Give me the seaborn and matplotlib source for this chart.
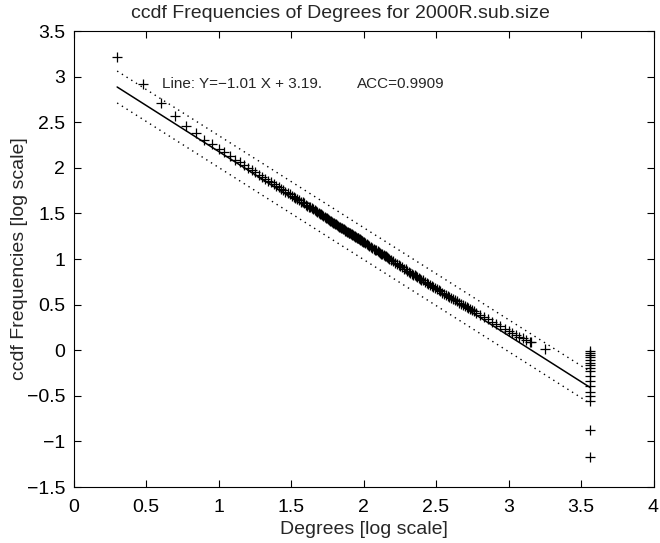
import numpy as np
import pandas as pd
import matplotlib
matplotlib.use("Agg")
import matplotlib.pyplot as plt
import seaborn as sns

# ---- data (log10 degree, log10 ccdf frequency) ----
x_main = [0.301, 0.477, 0.602, 0.699, 0.778, 0.845, 0.903, 0.954, 1.000, 1.041,
          1.079, 1.114, 1.146, 1.176, 1.204, 1.230, 1.255, 1.279, 1.301, 1.322,
          1.342, 1.362, 1.380, 1.398, 1.415, 1.431, 1.447, 1.462, 1.477, 1.491,
          1.505, 1.519, 1.531, 1.544, 1.556, 1.568, 1.580, 1.591, 1.602, 1.613,
          1.623, 1.633, 1.643, 1.653, 1.663, 1.672, 1.681, 1.690, 1.699, 1.716,
          1.732, 1.748, 1.763, 1.778, 1.792, 1.806, 1.820, 1.833, 1.845, 1.857,
          1.869, 1.881, 1.892, 1.903, 1.914, 1.924, 1.934, 1.944, 1.954, 1.964,
          1.973, 1.982, 1.991, 2.000, 2.021, 2.041, 2.061, 2.079, 2.097, 2.114,
          2.130, 2.146, 2.161, 2.176, 2.204, 2.230, 2.255, 2.279, 2.301, 2.322,
          2.342, 2.362, 2.380, 2.398, 2.423, 2.447, 2.470, 2.491, 2.519, 2.544,
          2.568, 2.591, 2.618, 2.643, 2.672, 2.699, 2.724, 2.748, 2.778, 2.806,
          2.833, 2.857, 2.886, 2.914, 2.944, 2.978, 3.000, 3.025, 3.049, 3.072,
          3.097, 3.124, 3.146, 3.152, 3.250]
y_main = [3.22, 2.92, 2.71, 2.57, 2.46, 2.38, 2.31, 2.26, 2.21, 2.17,
          2.13, 2.09, 2.06, 2.03, 2.00, 1.975, 1.95, 1.925, 1.90, 1.88,
          1.86, 1.84, 1.82, 1.80, 1.785, 1.77, 1.755, 1.74, 1.725, 1.71,
          1.695, 1.68, 1.67, 1.655, 1.645, 1.63, 1.62, 1.61, 1.595, 1.585,
          1.575, 1.565, 1.555, 1.545, 1.535, 1.525, 1.515, 1.505, 1.495, 1.48,
          1.46, 1.445, 1.43, 1.415, 1.40, 1.385, 1.37, 1.355, 1.345, 1.33,
          1.32, 1.305, 1.295, 1.285, 1.275, 1.265, 1.255, 1.245, 1.235, 1.225,
          1.215, 1.205, 1.195, 1.185, 1.16, 1.14, 1.12, 1.10, 1.085, 1.07,
          1.05, 1.035, 1.02, 1.005, 0.975, 0.945, 0.92, 0.895, 0.87, 0.85,
          0.83, 0.81, 0.79, 0.775, 0.75, 0.725, 0.705, 0.685, 0.655, 0.63,
          0.61, 0.585, 0.56, 0.535, 0.51, 0.485, 0.46, 0.44, 0.41, 0.385,
          0.36, 0.34, 0.31, 0.285, 0.26, 0.23, 0.21, 0.19, 0.17, 0.15,
          0.13, 0.11, 0.095, 0.085, 0.015]
# additional degrees in the dense middle part of the distribution
x_mid = [1.708, 1.724, 1.740, 1.756, 1.771, 1.785, 1.799, 1.813, 1.826, 1.839,
         1.851, 1.863, 1.875, 1.887, 1.898, 1.908, 1.919, 1.929, 1.939, 1.949,
         1.959, 1.968, 1.978, 1.987, 1.996, 2.010, 2.031, 2.051, 2.070, 2.088,
         2.106, 2.122, 2.138, 2.154, 2.169, 2.190, 2.217, 2.243, 2.267, 2.290,
         2.312, 2.332, 2.352, 2.371, 2.389, 2.410, 2.435, 2.459, 2.481, 2.505,
         2.531, 2.556, 2.580, 2.605, 2.630, 2.658, 2.686, 2.712, 2.736, 2.763]
y_mid = [1.49, 1.47, 1.455, 1.44, 1.42, 1.41, 1.39, 1.38, 1.365, 1.35,
         1.34, 1.325, 1.31, 1.30, 1.29, 1.28, 1.27, 1.26, 1.25, 1.24,
         1.23, 1.22, 1.21, 1.20, 1.19, 1.175, 1.15, 1.13, 1.11, 1.095,
         1.075, 1.06, 1.045, 1.03, 1.01, 0.99, 0.96, 0.93, 0.91, 0.885,
         0.86, 0.84, 0.82, 0.80, 0.785, 0.765, 0.74, 0.715, 0.695, 0.67,
         0.645, 0.62, 0.595, 0.575, 0.55, 0.52, 0.495, 0.47, 0.45, 0.425]
x_tail = [3.562] * 17
y_tail = [-0.01, -0.03, -0.055, -0.077, -0.105, -0.135, -0.165, -0.193, -0.23,
          -0.28, -0.333, -0.388, -0.46, -0.505, -0.556, -0.87, -1.17]

slope = -1.01
intercept = 3.19
band = 0.175
fit_x = [0.301, 3.562]
acc_text = "ACC=0.9909"
line_text = "Line: Y=\u22121.01 X + 3.19."

title = "ccdf Frequencies of Degrees for 2000R.sub.size"
xlabel = "Degrees [log scale]"
ylabel = "ccdf Frequencies [log scale]"
xticks = [0, 0.5, 1, 1.5, 2, 2.5, 3, 3.5, 4]
yticks = [-1.5, -1, -0.5, 0, 0.5, 1, 1.5, 2, 2.5, 3, 3.5]

# ---- build frames ----
pts = pd.DataFrame({"x": x_main + x_mid + x_tail, "y": y_main + y_mid + y_tail})
fx = np.array(fit_x)
fit = pd.DataFrame({"x": fx, "y": slope * fx + intercept})
up = pd.DataFrame({"x": fx, "y": slope * fx + intercept + band})
lo = pd.DataFrame({"x": fx, "y": slope * fx + intercept - band})

sns.set_style("white")
plt.rcParams["font.family"] = ["Liberation Sans", "DejaVu Sans"]
plt.rcParams["axes.unicode_minus"] = True

fig = plt.figure(figsize=(6.6, 5.43), dpi=100)
ax = fig.add_axes([73.5 / 660, 56 / 543, 580 / 660, 456 / 543])

sns.scatterplot(data=pts, x="x", y="y", marker="+", color="black",
                s=60, linewidth=0.9, ax=ax, legend=False)
sns.lineplot(data=fit, x="x", y="y", color="black", linewidth=1.1, ax=ax)
sns.lineplot(data=up, x="x", y="y", color="black", linewidth=1.0,
             linestyle=(0, (1, 3)), ax=ax)
sns.lineplot(data=lo, x="x", y="y", color="black", linewidth=1.0,
             linestyle=(0, (1, 3)), ax=ax)

ax.text(0.61, 2.92, line_text, fontsize=11, va="center", ha="left")
ax.text(1.955, 2.92, acc_text, fontsize=11, va="center", ha="left")

ax.set_xlim(0, 4)
ax.set_ylim(-1.5, 3.5)
ax.set_xticks(xticks)
ax.set_yticks(yticks)
ax.set_xticklabels([f"{t:g}".replace("-", "\u2212") for t in xticks])
ax.set_yticklabels([f"{t:g}".replace("-", "\u2212") for t in yticks])
ax.tick_params(direction="in", length=5, width=0.8, labelsize=14,
               top=True, right=True, bottom=True, left=True,
               colors="black")
ax.tick_params(axis="x", pad=9)
ax.tick_params(axis="y", pad=6)
for sp in ax.spines.values():
    sp.set_color("black")
    sp.set_linewidth(0.8)

ax.set_xlabel(xlabel, fontsize=14, labelpad=3)
ax.set_ylabel(ylabel, fontsize=14, labelpad=-1)
t = ax.set_title(title, fontsize=14, pad=9)
t.set_x(0.46)

fig.savefig("out.png", dpi=100)
